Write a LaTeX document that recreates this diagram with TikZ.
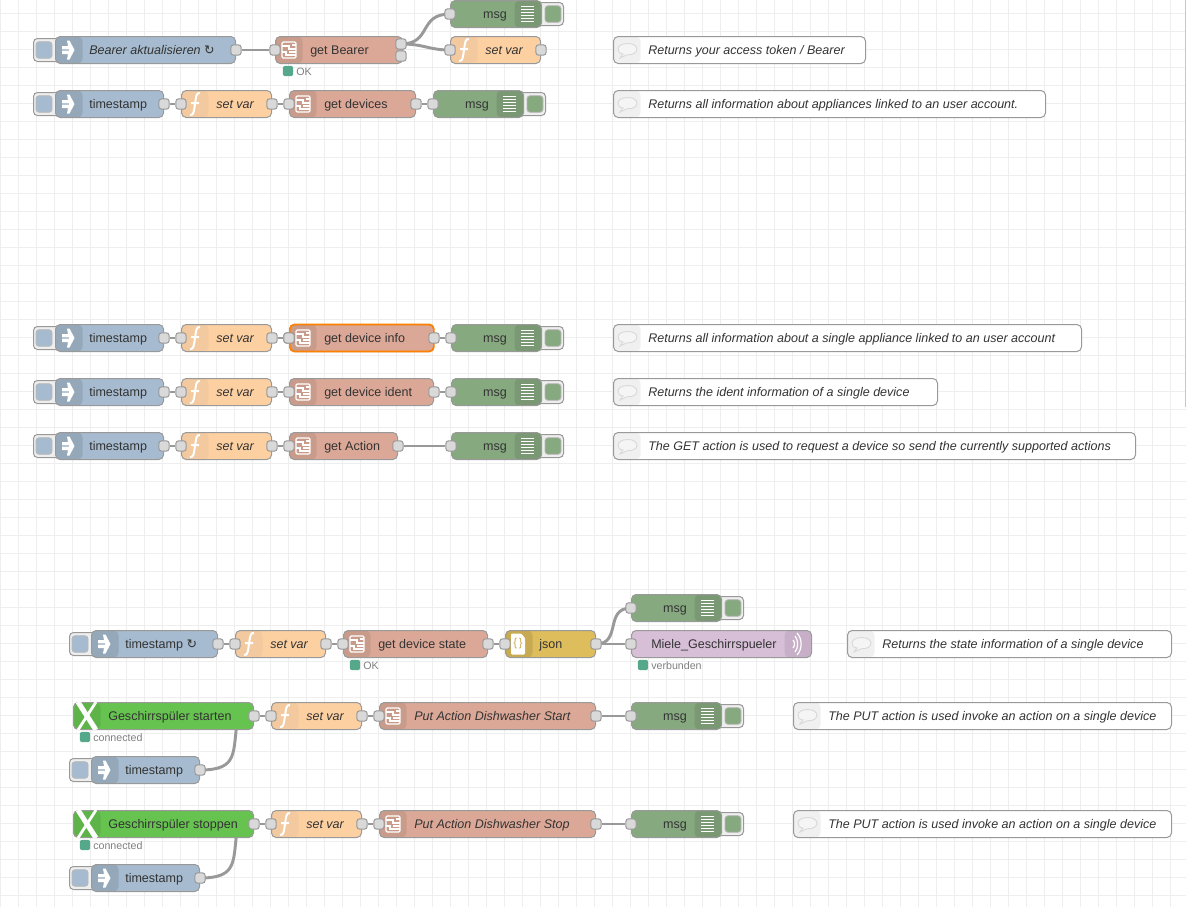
\documentclass[tikz,border=0pt]{standalone}
\usepackage{fontspec}
\setmainfont{Liberation Sans}
\newfontfamily\symfont{DejaVu Sans}
\usetikzlibrary{backgrounds}

\definecolor{gridcol}{HTML}{EEEEEE}
\definecolor{wirecol}{HTML}{999999}
\definecolor{portcol}{HTML}{D9D9D9}
\definecolor{labelcol}{HTML}{333333}
\definecolor{injectcol}{HTML}{A6BBCF}
\definecolor{funccol}{HTML}{FDD0A2}
\definecolor{httpcol}{HTML}{DBA897}
\definecolor{debugcol}{HTML}{87A980}
\definecolor{jsoncol}{HTML}{DEBD5C}
\definecolor{mqttcol}{HTML}{66C34F}
\definecolor{sockcol}{HTML}{D8BFD8}
\definecolor{okcol}{HTML}{55A98A}

\tikzset{
  flowbody/.style={draw=wirecol, line width=0.75pt, rounded corners=3.5pt, inner sep=0pt, minimum height=20.25pt, anchor=west, fill=#1},
  bandleft/.style={path picture={\fill[#1] (path picture bounding box.north west) rectangle ([xshift=20.25pt]path picture bounding box.south west);}},
  bandright/.style={path picture={\fill[#1] (path picture bounding box.north east) rectangle ([xshift=-20.25pt]path picture bounding box.south east);}},
  flowlabel/.style={inner sep=0pt, anchor=base west, text=labelcol, font=\fontsize{9.4pt}{11pt}\selectfont},
  flowport/.style={draw=wirecol, fill=portcol, line width=0.75pt, rounded corners=1.8pt, inner sep=0pt, minimum size=7.6pt},
  wire/.style={draw=wirecol, line width=2.2pt},
  outerbtn/.style={draw=wirecol, fill=gridcol, line width=0.75pt, rounded corners=3pt, inner sep=0pt, minimum height=17.25pt},
  innerbtn/.style={draw=wirecol!70, fill=#1, line width=0.6pt, rounded corners=2.2pt, inner sep=0pt, minimum width=12pt, minimum height=12.4pt},
  statusdot/.style={fill=okcol, rounded corners=1.5pt, inner sep=0pt, minimum size=7.6pt},
  statustext/.style={inner sep=0pt, anchor=base west, text=gray, font=\fontsize{8pt}{10pt}\selectfont},
  iconline/.style={draw=white, line width=0.95pt},
}

% inject: name, x, y, width, label
\newcommand{\injectnode}[5]{
  \node[outerbtn, minimum width=21pt, anchor=west] (#1-btn) at (#2-22,#3) {};
  \node[innerbtn=injectcol] (#1-push) at (#2-11,#3) {};
  \node[flowbody=injectcol, bandleft=injectcol!90!black, minimum width=#4*0.75pt] (#1) at (#2,#3) {};
  \fill[white, shift={(#2+13,#3)}] (-6,-4) -- (0,-4) -- (-1,-9.5) -- (1.5,-9.5) -- (6.5,0) -- (1.5,9.5) -- (-1,9.5) -- (0,4) -- (-6,4)
    -- (-6,0.6) -- (1,0.6) -- (1,-0.6) -- (-6,-0.6) -- cycle;
  \node[flowlabel] (#1-text) at (#2+34,#3+4.6) {#5};
  \node[flowport] (#1-out) at (#1.east) {};
}
% function: name, x, y
\newcommand{\funcnode}[3]{
  \node[flowbody=funccol, bandleft=funccol!92!gray, minimum width=67.5pt] (#1) at (#2,#3) {};
  \draw[white, line width=1.5pt, shift={(#2+14,#3)}] (-5,11) .. controls (-1,12) and (-1,6) .. (0,0) .. controls (1,-6) and (1,-12) .. (5,-11) (-4,-1) -- (4,-1);
  \node[flowlabel, font=\fontsize{9.4pt}{11pt}\selectfont\itshape] (#1-text) at (#2+35,#3+4.6) {set var};
  \node[flowport] (#1-in) at (#1.west) {};
  \node[flowport] (#1-out) at (#1.east) {};
}
% http request: name, x, y, width, label
\newcommand{\httpnode}[5]{
  \node[flowbody=httpcol, bandleft=httpcol!92!black, minimum width=#4*0.75pt] (#1) at (#2,#3) {};
  \begin{scope}[shift={(#2+14,#3)}]
    \draw[iconline, rounded corners=1pt] (-7,-8) rectangle (7,8);
    \draw[iconline, line width=0.8pt] (-7,-4) -- (0,-4) -- (0,-1) -- (7,-1) (-7,2) -- (-3,2) -- (-3,5) -- (7,5) (7,2) -- (0,2);
    \draw[iconline, line width=0.8pt] (3,-5) -- (7,-5);
  \end{scope}
  \node[flowlabel] (#1-text) at (#2+35,#3+4.6) {#5};
  \node[flowport] (#1-in) at (#1.west) {};
}
% debug: name, x, y, width (body only, the button is added)
\newcommand{\debugnode}[4]{
  \node[outerbtn, minimum width=21pt, anchor=east] (#1-btn) at (#2+#4+23,#3) {};
  \node[innerbtn=debugcol] (#1-push) at (#2+#4+12,#3) {};
  \node[flowbody=debugcol, bandright=debugcol!90!black, minimum width=#4*0.75pt] (#1) at (#2,#3) {};
  \foreach \k in {-7.5,-4.5,...,8} \draw[iconline] (#2+#4-20,#3+\k) -- (#2+#4-7,#3+\k);
  \node[flowlabel, anchor=base east] (#1-text) at (#2+#4-34,#3+4.6) {msg};
  \node[flowport] (#1-in) at (#1.west) {};
}
% comment: name, x, y, width, label
\newcommand{\commentnode}[5]{
  \node[flowbody=white, bandleft=gridcol!90!white, minimum width=#4*0.75pt] (#1) at (#2,#3) {};
  \draw[draw=black!15, fill=white!96!black, line width=0.7pt, shift={(#2+15,#3)}] (-5,4) -- (-8,8) -- (-1,4.8) .. controls (12,5.5) and (12,-6.5) .. (0,-6.5) .. controls (-13,-6.5) and (-12,3.5) .. (-5,4) -- cycle;
  \node[flowlabel, font=\fontsize{9.4pt}{11pt}\selectfont\itshape] (#1-text) at (#2+35,#3+4.6) {#5};
}
% mqtt: name, x, y, label
\newcommand{\mqttnode}[4]{
  \node[flowbody=mqttcol, bandleft=mqttcol!92!black, minimum width=135pt] (#1) at (#2,#3) {};
  \begin{scope}
    \clip (#2,#3-13.5) rectangle (#2+27,#3+13.5);
    \draw[white, line width=3.8pt, shift={(#2+14,#3)}] (-9,-14) -- (9,14);
    \draw[white, line width=2.1pt, shift={(#2+14,#3)}] (9,-14) -- (-9,14);
  \end{scope}
  \node[flowlabel] (#1-text) at (#2+35,#3+4.6) {#4};
  \node[flowport] (#1-out) at (#1.east) {};
}
% status: name, x, y, label
\newcommand{\statusnode}[4]{
  \node[statusdot] (#1) at (#2,#3) {};
  \node[statustext] (#1-text) at (#2+8,#3+4) {#4};
}

\begin{document}
\begin{tikzpicture}[x=0.75pt,y=0.75pt,yscale=-1,xscale=1]
\useasboundingbox (0,0) rectangle (1186,907);

\begin{pgfonlayer}{background}
\fill[white] (0,0) rectangle (1186,907);
\foreach \k in {0,...,65} \draw[gridcol, line width=0.75pt] (0.7+18*\k,0) -- (0.7+18*\k,907);
\foreach \k in {0,...,50} \draw[gridcol, line width=0.75pt] (0,13.3+18*\k) -- (1186,13.3+18*\k);
\fill[black!22] (1185,0) rectangle (1186,407);
\end{pgfonlayer}

% first block
\injectnode{bearer}{55}{50}{180}{\itshape Bearer aktualisieren {\symfont ↻}}
\httpnode{getbearer}{275}{50}{127}{get Bearer}
\node[flowport] (getbearer-outa) at (401,44) {};
\node[flowport] (getbearer-outb) at (401,56) {};
\statusnode{bearerok}{288}{71}{OK}
\debugnode{msgbearer}{450}{14}{91}
\funcnode{varbearer}{450}{50}
\commentnode{notebearer}{613}{50}{252}{Returns your access token / Bearer}

\injectnode{tsdevices}{55}{104}{108}{timestamp}
\funcnode{vardevices}{181}{104}
\httpnode{getdevices}{289}{104}{126}{get devices}
\node[flowport] (getdevices-out) at (getdevices.east) {};
\debugnode{msgdevices}{433}{104}{90}
\commentnode{notedevices}{613}{104}{432}{Returns all information about appliances linked to an user account.}

% second block
\injectnode{tsinfo}{55}{338}{108}{timestamp}
\funcnode{varinfo}{181}{338}
\httpnode{getinfo}{289}{338}{144}{get device info}
\node[flowbody=none, draw=orange, fill=none, line width=1.3pt, minimum width=108pt] (getinfo-sel) at (289,338) {};
\node[flowport] (getinfo-in2) at (getinfo.west) {};
\node[flowport] (getinfo-out) at (getinfo.east) {};
\debugnode{msginfo}{451}{338}{90}
\commentnode{noteinfo}{613}{338}{468}{Returns all information about a single appliance linked to an user account}

\injectnode{tsident}{55}{392}{108}{timestamp}
\funcnode{varident}{181}{392}
\httpnode{getident}{289}{392}{144}{get device ident}
\node[flowport] (getident-out) at (getident.east) {};
\debugnode{msgident}{451}{392}{90}
\commentnode{noteident}{613}{392}{324}{Returns the ident information of a single device}

\injectnode{tsaction}{55}{446}{108}{timestamp}
\funcnode{varaction}{181}{446}
\httpnode{getaction}{289}{446}{108}{get Action}
\node[flowport] (getaction-out) at (getaction.east) {};
\debugnode{msgaction}{451}{446}{90}
\commentnode{noteaction}{613}{446}{522}{The GET action is used to request a device so send the currently supported actions}

% third block
\injectnode{tsstate}{91}{644}{126}{timestamp {\symfont ↻}}
\funcnode{varstate}{235}{644}
\httpnode{getstate}{343}{644}{144}{get device state}
\node[flowport] (getstate-out) at (getstate.east) {};
\statusnode{stateok}{355}{665}{OK}
\node[flowbody=jsoncol, bandleft=jsoncol!90!black, minimum width=67.5pt] (json) at (505,644) {};
\fill[white, rounded corners=0.8pt] (511,633.5) -- (521,633.5) -- (525,638) -- (525,654.5) -- (511,654.5) -- cycle;
\node[inner sep=0pt, text=jsoncol!90!black, font=\fontsize{8.5pt}{10pt}\selectfont] (json-icon) at (518,644) {\{\,\}};
\node[flowlabel] (json-text) at (539,648.6) {json};
\node[flowport] (json-in) at (json.west) {};
\node[flowport] (json-out) at (json.east) {};
\debugnode{msgstate}{631}{608}{90}
\node[flowbody=sockcol, bandright=sockcol!92!black, minimum width=135pt] (miele) at (631,644) {};
\draw[iconline, line width=0.9pt] (793,640) .. controls (795,642) and (795,646) .. (793,648);
\draw[iconline, line width=0.9pt] (795,636) .. controls (798.5,640) and (798.5,648) .. (795,652);
\draw[iconline, line width=0.9pt] (797,633) .. controls (802.5,639) and (802.5,649) .. (797,655);
\node[flowlabel] (miele-text) at (651,648.6) {Miele\_Geschirrspueler};
\node[flowport] (miele-in) at (miele.west) {};
\statusnode{mieleok}{643}{665}{verbunden}
\commentnode{notestate}{847}{644}{324}{Returns the state information of a single device}

\mqttnode{startbtn}{73}{716}{Geschirrspüler starten}
\statusnode{startok}{85}{737}{connected}
\coordinate (startbtn-tail) at (238,716);
\funcnode{varstart}{271}{716}
\httpnode{putstart}{379}{716}{216}{\itshape Put Action Dishwasher Start}
\node[flowport] (putstart-out) at (putstart.east) {};
\debugnode{msgstart}{631}{716}{90}
\commentnode{notestart}{793}{716}{378}{The PUT action is used invoke an action on a single device}
\injectnode{tsstart}{91}{770}{108}{timestamp}

\mqttnode{stopbtn}{73}{824}{Geschirrspüler stoppen}
\statusnode{stopok}{85}{845}{connected}
\coordinate (stopbtn-tail) at (238,824);
\funcnode{varstop}{271}{824}
\httpnode{putstop}{379}{824}{216}{\itshape Put Action Dishwasher Stop}
\node[flowport] (putstop-out) at (putstop.east) {};
\debugnode{msgstop}{631}{824}{90}
\commentnode{notestop}{793}{824}{378}{The PUT action is used invoke an action on a single device}
\injectnode{tsstop}{91}{878}{108}{timestamp}

% wires under the nodes
\begin{pgfonlayer}{background}
\draw[wire] (bearer-out) -- (getbearer-in);
\draw[wire] (getbearer-outa.center) .. controls (432,44) and (418,14) .. (msgbearer-in.center);
\draw[wire] (getbearer-outa.center) .. controls (425,44) and (428,50) .. (varbearer-in.center);
\draw[wire] (tsdevices-out) -- (vardevices-in);
\draw[wire] (vardevices-out) -- (getdevices-in);
\draw[wire] (getdevices-out) -- (msgdevices-in);
\draw[wire] (tsinfo-out) -- (varinfo-in);
\draw[wire] (varinfo-out) -- (getinfo-in);
\draw[wire] (getinfo-out) -- (msginfo-in);
\draw[wire] (tsident-out) -- (varident-in);
\draw[wire] (varident-out) -- (getident-in);
\draw[wire] (getident-out) -- (msgident-in);
\draw[wire] (tsaction-out) -- (varaction-in);
\draw[wire] (varaction-out) -- (getaction-in);
\draw[wire] (getaction-out) -- (msgaction-in);
\draw[wire] (tsstate-out) -- (varstate-in);
\draw[wire] (varstate-out) -- (getstate-in);
\draw[wire] (getstate-out) -- (json-in);
\draw[wire] (json-out.center) .. controls (622,644) and (604,608) .. (msgstate-in.center);
\draw[wire] (json-out) -- (miele-in);
\draw[wire] (startbtn-out) -- (varstart-in);
\draw[wire] (varstart-out) -- (putstart-in);
\draw[wire] (putstart-out) -- (msgstart-in);
\draw[wire] (tsstart-out.center) .. controls (240,770) and (232,752) .. (startbtn-tail);
\draw[wire] (stopbtn-out) -- (varstop-in);
\draw[wire] (varstop-out) -- (putstop-in);
\draw[wire] (putstop-out) -- (msgstop-in);
\draw[wire] (tsstop-out.center) .. controls (240,878) and (232,860) .. (stopbtn-tail);
\end{pgfonlayer}
\end{tikzpicture}
\end{document}
